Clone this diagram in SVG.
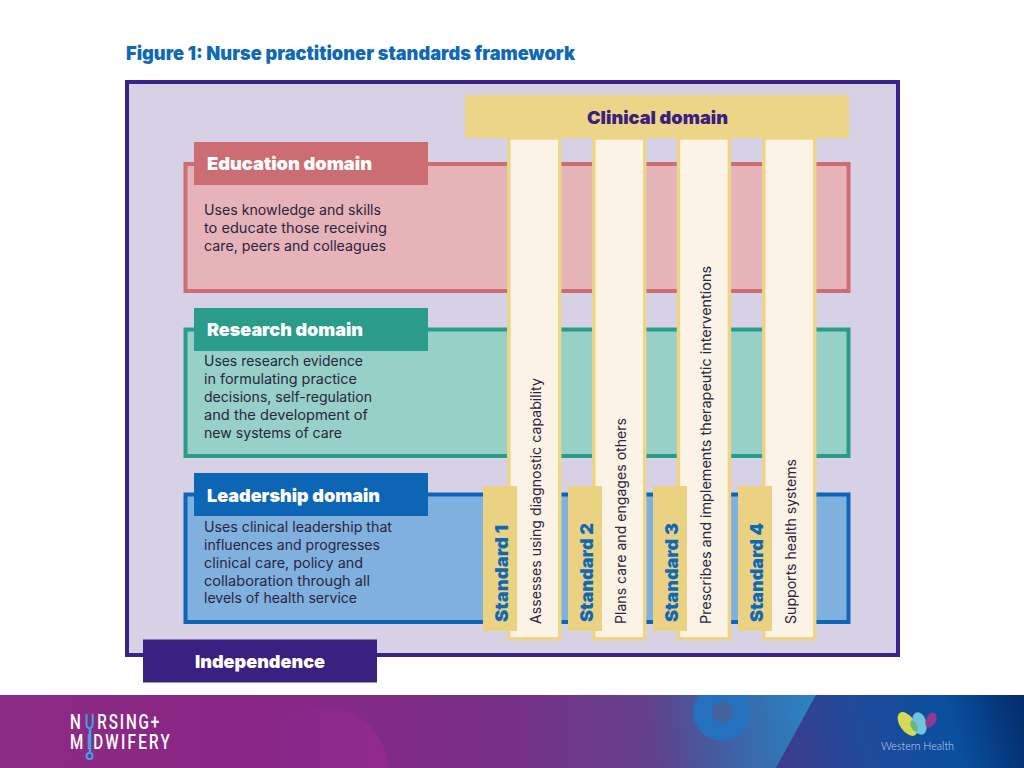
<svg xmlns="http://www.w3.org/2000/svg" width="1024" height="768" viewBox="0 0 1024 768">
<style>
text{font-family:"Inter","Noto Sans","Liberation Sans",sans-serif}
.h{font-weight:900;font-size:18px;fill:#fff}
.b{font-size:14px;fill:#2b2440}
.c{font-size:14px;fill:#2b2440}
.s{font-weight:900;font-size:18px;fill:#0f69b4}
.col{fill:#fbf4e6;stroke:#edd588;stroke-width:3.500}
.std{fill:#ebd182}
.logo{font-family:"Roboto","Liberation Sans",sans-serif;font-size:20px;font-weight:500;fill:#fff}
</style>
<defs>
<linearGradient id="foot" gradientUnits="userSpaceOnUse" x1="0" y1="0" x2="830" y2="0">
<stop offset="0" stop-color="#8b2a84"/><stop offset=".3" stop-color="#8a2686"/><stop offset=".6" stop-color="#782f86"/><stop offset=".78" stop-color="#644089"/><stop offset="1" stop-color="#3f4a90"/>
</linearGradient>
<linearGradient id="band" gradientUnits="userSpaceOnUse" x1="650" y1="740" x2="815" y2="710">
<stop offset="0" stop-color="#2a80c0" stop-opacity="0"/><stop offset="1" stop-color="#2a84c2"/>
</linearGradient>
<linearGradient id="right" gradientUnits="userSpaceOnUse" x1="780" y1="768" x2="1024" y2="700">
<stop offset="0" stop-color="#3f3b8c"/><stop offset=".35" stop-color="#1f4a9a"/><stop offset=".7" stop-color="#0a4f9f"/><stop offset="1" stop-color="#032c6a"/>
</linearGradient>
<linearGradient id="glow" gradientUnits="userSpaceOnUse" x1="275" y1="0" x2="375" y2="0"><stop offset="0" stop-color="#92298f" stop-opacity="0"/><stop offset="1" stop-color="#92298f"/></linearGradient>
<clipPath id="fc"><rect y="695" width="1024" height="73"/></clipPath>
</defs>
<rect width="1024" height="768" fill="#fff"/>
<text x="126" y="60" font-size="19" font-weight="900" fill="#0f69b4" textLength="449" lengthAdjust="spacingAndGlyphs">Figure 1: Nurse practitioner standards framework</text>
<rect id="frame" x="127" y="82" width="771" height="573" fill="#d7d1e6" stroke="#3a2388" stroke-width="4"/>
<g id="education"><rect x="185.500" y="164" width="663" height="127" fill="#e6b3b8" stroke="#cc6d74" stroke-width="4"/><rect x="194" y="142" width="234" height="43" fill="#cc6d74"/><text class="h" x="207" y="170" textLength="165" lengthAdjust="spacingAndGlyphs">Education domain</text>
<text class="b" x="204" y="215" textLength="177" lengthAdjust="spacingAndGlyphs">Uses knowledge and skills</text><text class="b" x="204" y="233" textLength="183" lengthAdjust="spacingAndGlyphs">to educate those receiving</text><text class="b" x="204" y="251" textLength="182" lengthAdjust="spacingAndGlyphs">care, peers and colleagues</text></g>
<g id="research"><rect x="185.500" y="329.500" width="663" height="126.500" fill="#96d0c6" stroke="#2a9d8a" stroke-width="4"/><rect x="194" y="308" width="234" height="43" fill="#2a9d8a"/><text class="h" x="207" y="336" textLength="156" lengthAdjust="spacingAndGlyphs">Research domain</text>
<text class="b" x="204" y="365.500" textLength="159" lengthAdjust="spacingAndGlyphs">Uses research evidence</text><text class="b" x="204" y="383.500" textLength="153" lengthAdjust="spacingAndGlyphs">in formulating practice</text><text class="b" x="204" y="401.500" textLength="168" lengthAdjust="spacingAndGlyphs">decisions, self-regulation</text><text class="b" x="204" y="419.500" textLength="164" lengthAdjust="spacingAndGlyphs">and the development of</text><text class="b" x="204" y="437.500" textLength="138" lengthAdjust="spacingAndGlyphs">new systems of care</text></g>
<g id="leadership"><rect x="185.500" y="494.500" width="663" height="127.500" fill="#80b0de" stroke="#0d66b5" stroke-width="4"/><rect x="194" y="473" width="234" height="43" fill="#0d66b5"/><text class="h" x="207" y="502" textLength="173" lengthAdjust="spacingAndGlyphs">Leadership domain</text>
<text class="b" x="204" y="531.500" textLength="188" lengthAdjust="spacingAndGlyphs">Uses clinical leadership that</text><text class="b" x="204" y="549.500" textLength="176" lengthAdjust="spacingAndGlyphs">influences and progresses</text><text class="b" x="204" y="567.500" textLength="159" lengthAdjust="spacingAndGlyphs">clinical care, policy and</text><text class="b" x="204" y="585.500" textLength="166" lengthAdjust="spacingAndGlyphs">collaboration through all</text><text class="b" x="204" y="603" textLength="153" lengthAdjust="spacingAndGlyphs">levels of health service</text></g>
<g id="independence"><rect x="143" y="639.500" width="234" height="43" fill="#3a2080"/><text class="h" x="195" y="668" textLength="130" lengthAdjust="spacingAndGlyphs">Independence</text></g>
<g id="clinical"><rect x="465" y="95" width="384" height="43" fill="#edd588"/><text x="587" y="124" font-size="18" font-weight="900" fill="#3a2080" textLength="141" lengthAdjust="spacingAndGlyphs">Clinical domain</text></g>
<g id="standard1"><rect class="col" x="508.800" y="138" width="50.900" height="500.800"/><rect class="std" x="483" y="486" width="34" height="145"/><text class="s" transform="translate(508 622) rotate(-90)" textLength="97" lengthAdjust="spacingAndGlyphs">Standard 1</text><text class="c" transform="translate(541 624) rotate(-90)" textLength="246" lengthAdjust="spacingAndGlyphs">Assesses using diagnostic capability</text></g>
<g id="standard2"><rect class="col" x="593.800" y="138" width="50.900" height="500.800"/><rect class="std" x="568" y="486" width="34" height="145"/><text class="s" transform="translate(593 622) rotate(-90)" textLength="99" lengthAdjust="spacingAndGlyphs">Standard 2</text><text class="c" transform="translate(626 624) rotate(-90)" textLength="206" lengthAdjust="spacingAndGlyphs">Plans care and engages others</text></g>
<g id="standard3"><rect class="col" x="678.500" y="138" width="50.900" height="500.800"/><rect class="std" x="653" y="486" width="34" height="145"/><text class="s" transform="translate(678 622) rotate(-90)" textLength="99" lengthAdjust="spacingAndGlyphs">Standard 3</text><text class="c" transform="translate(711 624) rotate(-90)" textLength="358" lengthAdjust="spacingAndGlyphs">Prescribes and implements therapeutic interventions</text></g>
<g id="standard4"><rect class="col" x="763.800" y="138" width="50.900" height="500.800"/><rect class="std" x="738" y="486" width="34" height="145"/><text class="s" transform="translate(763 622) rotate(-90)" textLength="99" lengthAdjust="spacingAndGlyphs">Standard 4</text><text class="c" transform="translate(796 624) rotate(-90)" textLength="165" lengthAdjust="spacingAndGlyphs">Supports health systems</text></g>
<g id="footer" clip-path="url(#fc)"><rect y="695" width="1024" height="73" fill="url(#foot)"/>
<circle cx="325" cy="770" r="63" fill="url(#glow)"/>
<path d="M640 695H816L776 768H640Z" fill="url(#band)"/>
<path d="M816 695H1024V768H776Z" fill="url(#right)"/>
<path fill-rule="evenodd" d="M693 712a29 28.500 0 1 0 58 0a29 28.500 0 1 0 -58 0ZM712 712a10.500 10.500 0 1 0 21 0a10.500 10.500 0 1 0 -21 0Z" fill="#2571bf"/>
<circle cx="722.500" cy="712" r="10.500" fill="#43649f"/>
</g>
<g id="nursing-midwifery-logo">
<path d="M90 728V752" stroke="#35a8e0" stroke-width="2.500" fill="none"/>
<circle cx="89.500" cy="756" r="3" fill="none" stroke="#35a8e0" stroke-width="2"/>
<text class="logo" transform="translate(70 728.500) scale(.76 1)"><tspan x="0">N</tspan><tspan x="19.500" fill="#35a8e0">U</tspan><tspan x="36" letter-spacing="2.400">RSING+</tspan></text>
<text class="logo" transform="translate(70 749) scale(.76 1)"><tspan x="0">M</tspan><tspan x="22" fill="#35a8e0">I</tspan><tspan x="30.500" letter-spacing="3">DWIFERY</tspan></text>
</g>
<g id="western-health-logo">
<ellipse cx="907.500" cy="724" rx="13.500" ry="7.500" transform="rotate(55 907.500 724)" fill="#d5d955"/>
<ellipse cx="919.500" cy="723.500" rx="11.500" ry="7" transform="rotate(75 919.500 723.500)" fill="#6ec6dc"/>
<ellipse cx="914" cy="726" rx="6" ry="3" transform="rotate(65 914 726)" fill="#69b583"/>
<ellipse cx="931" cy="720" rx="8" ry="5" transform="rotate(-65 931 720)" fill="#8f3a8e"/>
<text x="881" y="750" font-size="12.500" font-weight="300" fill="#c8d8ec" style="font-family:'Lato','Noto Sans',sans-serif" textLength="73" lengthAdjust="spacingAndGlyphs">Western Health</text>
</g>
</svg>
